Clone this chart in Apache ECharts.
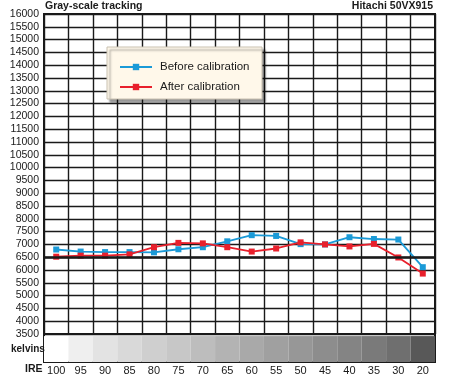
<!DOCTYPE html>
<html>
<head>
<meta charset="utf-8">
<script src="https://cdn.jsdelivr.net/npm/echarts@6/dist/echarts.min.js"></script>
<style>
  html, body { margin: 0; padding: 0; background: #fff; }
  #chart { width: 450px; height: 377px; }
</style>
</head>
<body>
<div id="chart"></div>
<script>
// IRE steps, left to right
var ireLabels = ['100', '95', '90', '85', '80', '75', '70', '65', '60', '55', '50', '45', '40', '35', '30', '20'];
// colour temperature in kelvins
var beforeCal = [6800, 6720, 6700, 6700, 6690, 6810, 6890, 7120, 7360, 7330, 7010, 7000, 7280, 7210, 7190, 6110];
var afterCal = [6520, 6560, 6560, 6610, 6890, 7060, 7040, 6890, 6720, 6840, 7080, 7000, 6920, 7020, 6490, 5860];
// grey patch of each IRE step
var patchGrey = ['#ffffff', '#efefef', '#e3e3e3', '#d9d9d9', '#cfcfcf', '#c7c7c7', '#bdbdbd', '#b3b3b3',
                 '#a9a9a9', '#a0a0a0', '#979797', '#8d8d8d', '#848484', '#7a7a7a', '#6f6f6f', '#585858'];
var yMin = 3500, yMax = 16000, yStep = 500;
var reference = 6500;

var font = '"Liberation Sans", Arial, sans-serif';
var ink = '#1a1a1a';

var chart = echarts.init(document.getElementById('chart'), null, { renderer: 'canvas' });

var option = {
    animation: false,
    backgroundColor: '#fff',
    textStyle: { fontFamily: font },
    grid: [
        { left: 44, top: 14, width: 391, height: 320, show: true, borderColor: ink, borderWidth: 2, backgroundColor: 'transparent' },
        { left: 44, top: 334, width: 391, height: 28, show: true, borderColor: ink, borderWidth: 2, backgroundColor: 'transparent' }
    ],
    xAxis: [
        {
            gridIndex: 0, type: 'category', data: ireLabels, boundaryGap: true,
            axisLine: { show: false }, axisTick: { show: false }, axisLabel: { show: false },
            splitLine: { show: true, interval: 0, lineStyle: { color: ink, width: 1.4 } }
        },
        {
            gridIndex: 1, type: 'category', data: ireLabels, boundaryGap: true,
            axisLine: { show: false }, axisTick: { show: false },
            axisLabel: { interval: 0, margin: 3, color: ink, fontSize: 11, fontFamily: font },
            splitLine: { show: false }
        }
    ],
    yAxis: [
        {
            gridIndex: 0, type: 'value', min: yMin, max: yMax, interval: yStep,
            axisLine: { show: false }, axisTick: { show: false },
            axisLabel: {
                margin: 5, color: ink, fontSize: 10.5, fontFamily: font,
                formatter: function (v) { return String(v); }
            },
            splitLine: { show: true, lineStyle: { color: ink, width: 1.4 } }
        },
        {
            gridIndex: 1, type: 'value', min: 0, max: 1.08, show: false
        }
    ],
    legend: {
        left: 114, top: 56, orient: 'vertical', itemWidth: 32, itemHeight: 8, itemGap: 8, z: 10,
        textStyle: { color: ink, fontSize: 11.5, fontFamily: font, padding: [0, 0, 0, 3] },
        data: ['Before calibration', 'After calibration']
    },
    graphic: [
        {
            type: 'rect', z: 5, shape: { x: 107, y: 47, width: 155, height: 52 },
            style: { fill: '#fff8ea', stroke: '#c8c0b0', lineWidth: 1, shadowColor: 'rgba(0,0,0,0.4)', shadowOffsetX: 3, shadowOffsetY: 3, shadowBlur: 2 }
        },
        { type: 'text', z: 10, left: 45, top: 1, style: { text: 'Gray-scale tracking', fill: ink, font: 'bold 10.5px ' + font } },
        { type: 'text', z: 10, right: 17, top: 1, style: { text: 'Hitachi 50VX915', fill: ink, font: 'bold 10.5px ' + font } },
        { type: 'text', z: 10, left: 11, top: 344, style: { text: 'kelvins', fill: ink, font: 'bold 10px ' + font } },
        { type: 'text', z: 10, left: 25, top: 364, style: { text: 'IRE', fill: ink, font: 'bold 10.5px ' + font } }
    ],
    series: [
        {
            name: 'Before calibration', type: 'line', xAxisIndex: 0, yAxisIndex: 0, data: beforeCal,
            symbol: 'rect', symbolSize: 6, z: 3,
            itemStyle: { color: '#1b9ad7' }, lineStyle: { color: '#1b9ad7', width: 1.8 },
            markLine: {
                silent: true, symbol: 'none', label: { show: false },
                lineStyle: { color: ink, width: 2.6, type: 'solid' },
                data: [{ yAxis: reference }]
            }
        },
        {
            name: 'After calibration', type: 'line', xAxisIndex: 0, yAxisIndex: 0, data: afterCal,
            symbol: 'rect', symbolSize: 6, z: 4,
            itemStyle: { color: '#e8202c' }, lineStyle: { color: '#e8202c', width: 1.8 }
        },
        {
            name: 'patch', type: 'bar', xAxisIndex: 1, yAxisIndex: 1, barWidth: '100%', silent: true,
            data: patchGrey.map(function (c) { return { value: 1, itemStyle: { color: c } }; })
        }
    ]
};

chart.setOption(option);
</script>
</body>
</html>
